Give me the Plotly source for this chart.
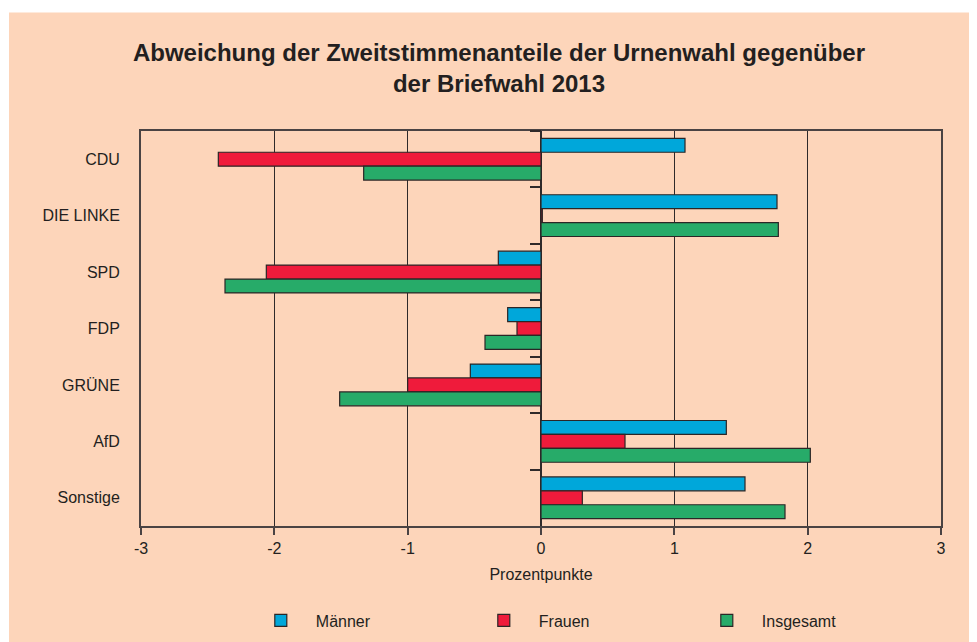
import plotly.graph_objects as go

parties = ["CDU", "DIE LINKE", "SPD", "FDP", "GRÜNE", "AfD", "Sonstige"]
maenner = [1.08, 1.77, -0.32, -0.25, -0.53, 1.39, 1.53]
frauen = [-2.42, 0.01, -2.06, -0.18, -1.00, 0.63, 0.31]
insgesamt = [-1.33, 1.78, -2.37, -0.42, -1.51, 2.02, 1.83]
x_ticks = [-3, -2, -1, 0, 1, 2, 3]

series = [
    ("Männer", maenner, "#00A7DA"),
    ("Frauen", frauen, "#EF1B3B"),
    ("Insgesamt", insgesamt, "#27AB69"),
]

dark = "#2f2a2a"
font_family = "Liberation Sans, Arial, sans-serif"

fig = go.Figure()
for name, vals, col in series:
    fig.add_trace(go.Bar(
        name=name, y=parties, x=vals, orientation="h",
        marker=dict(color=col, line=dict(color="#2b2626", width=1.2)),
    ))

# invisible helper trace for the category-boundary ticks on the zero line
fig.add_trace(go.Scatter(x=[None] * len(parties), y=parties, yaxis="y2",
                         showlegend=False, hoverinfo="skip", mode="markers"))

fig.update_layout(
    width=977, height=642,
    margin=dict(l=133, r=44, t=123, b=122),
    paper_bgcolor="white",
    plot_bgcolor="#FEF1E7",
    font=dict(family=font_family, size=16, color="#231f20"),
    barmode="group",
    bargap=0.26,
    bargroupgap=0,
    title=dict(
        text="<b>Abweichung der Zweitstimmenanteile der Urnenwahl gegenüber<br>der Briefwahl 2013</b>",
        x=491 / 977, xanchor="center", xref="container",
        y=1 - 53 / 642, yanchor="middle", yref="container",
        font=dict(size=24, color="#231f20", family=font_family),
    ),
    xaxis=dict(
        range=[-3, 3], tickvals=x_ticks, ticktext=[str(v) for v in x_ticks],
        showgrid=True, gridcolor=dark, gridwidth=1,
        zeroline=True, zerolinecolor=dark, zerolinewidth=2,
        showline=True, linecolor="#4a4343", linewidth=2, mirror=True,
        ticks="outside", ticklen=7, tickcolor="#4a4343", tickwidth=2,
        title=dict(text="Prozentpunkte", font=dict(size=16), standoff=13),
        tickfont=dict(size=16),
    ),
    yaxis=dict(
        type="category", categoryarray=parties, range=[6.5, -0.5],
        showgrid=False, showline=True, linecolor="#4a4343", linewidth=2, mirror=True,
        ticks="", ticklabelstandoff=16, tickfont=dict(size=16),
    ),
    yaxis2=dict(
        type="category", categoryarray=parties, range=[6.5, -0.5],
        overlaying="y", anchor="free", position=0.5, side="left",
        tickson="boundaries", ticks="outside", ticklen=11, tickwidth=2,
        tickcolor=dark, showticklabels=False, showgrid=False, showline=False,
        zeroline=False,
    ),
    legend=dict(
        orientation="h", x=0.131, y=(519 - 614) / 397,
        xanchor="left", yanchor="middle",
        bgcolor="rgba(0,0,0,0)", font=dict(size=16),
        entrywidth=148, entrywidthmode="pixels",
        itemwidth=60,
        traceorder="normal",
    ),
    shapes=[dict(
        type="rect", xref="paper", yref="paper", layer="below",
        x0=(1 - 133) / 800, x1=(990 - 133) / 800,
        y0=(519 - 660) / 397, y1=(519 - 3) / 397,
        fillcolor="#FDD5BA", line=dict(width=0),
    )],
)

fig.write_html("out.html")
